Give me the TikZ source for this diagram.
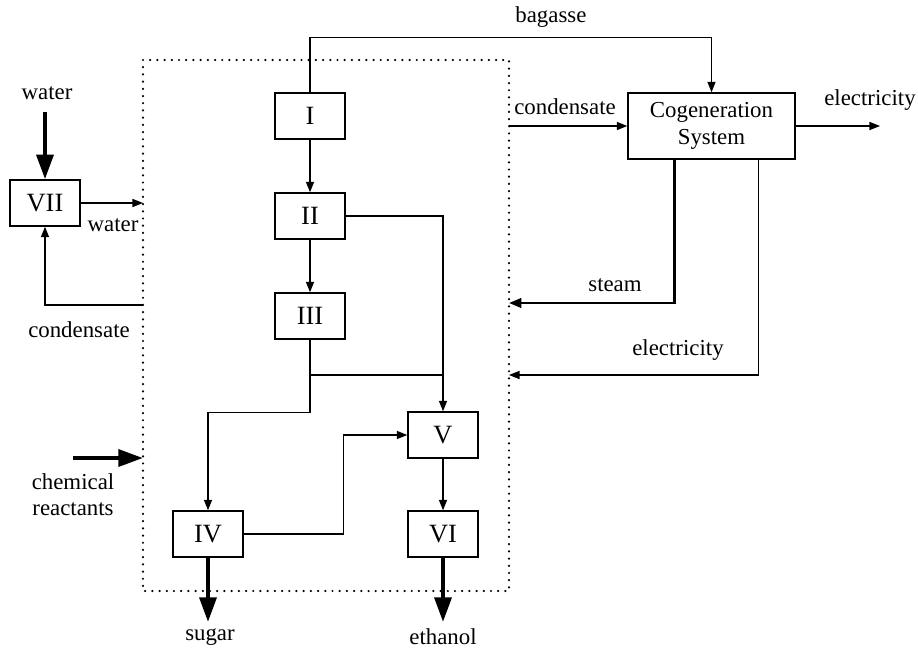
\documentclass[tikz,border=0pt]{standalone}
\usepackage{fontspec}
\setmainfont{Liberation Serif}
\usetikzlibrary{arrows.meta, positioning, calc}

\begin{document}
\begin{tikzpicture}[
  every node/.style={font=\fontsize{13}{15}\selectfont},
  b/.style={draw, line width=0.8pt, fill=white, align=center, minimum width=1.4cm, minimum height=0.92cm, inner sep=2pt, font=\fontsize{15}{17}\selectfont},
  a/.style={-{Triangle[length=6pt,width=4.6pt]}, line width=0.7pt},
  sa/.style={-{Triangle[length=7pt,width=5.4pt]}, line width=1.3pt},
  ta/.style={-{Triangle[length=14pt,width=9.5pt]}, line width=2.4pt},
  lbl/.style={inner sep=1pt}]
\useasboundingbox (0,0) rectangle (18.36,-13.02);
% plant boundary
\draw[line width=1.4pt, line cap=round, dash pattern=on 0pt off 4.1pt] (2.86,-1.2) rectangle (10.18,-11.82);
\coordinate (pw) at (2.86,0);
\coordinate (pe) at (10.18,0);
% units
\node[b] (s1) at (6.2,-2.32)  {I};
\node[b] (s2) at (6.2,-4.32)  {II};
\node[b] (s3) at (6.2,-6.32)  {III};
\node[b] (s4) at (4.16,-10.68) {IV};
\node[b] (s5) at (8.86,-8.7)  {V};
\node[b] (s6) at (8.86,-10.68) {VI};
\node[b] (s7) at (0.9,-4.06)  {VII};
\node[b, minimum width=3.34cm, minimum height=1.32cm, font=\fontsize{13}{15}\selectfont] (cogen) at (14.23,-2.52) {Cogeneration\\ System};
% free ends
\coordinate (win) at (0.9,-2.24);
\coordinate (cin) at (1.46,-9.16);
\coordinate (eout) at (17.6,-2.52);
\coordinate (sugar) at (4.16,-12.44);
\coordinate (eth) at (8.86,-12.44);
\coordinate (j) at (6.2,-7.5);
% inside the plant
\draw[a] (s1) -- (s2);
\draw[a] (s2) -- (s3);
\draw[a] (s2.east) -| (s5.north);
\draw[a] (s3.south) -- ++(0,-1.46) -| (s4.north);
\draw[line width=0.7pt] (j) -- (j -| s5.north);
\draw[a] (s4.east) -- ++(2.0,0) |- (s5.west);
\draw[a] (s5) -- (s6);
\draw[ta] (s4.south) -- (sugar);
\draw[ta] (s6.south) -- (eth);
% cogeneration
\draw[a] (s1.north) -- ++(0,1.1) -| node[pos=0.3, above=2pt]{bagasse} (cogen.north);
\draw[a] (pe |- cogen.west) -- (cogen.west);
\node[lbl] (cnd2) at (11.3,-2.14) {condensate};
\draw[a] (cogen.east) -- (eout);
\node[lbl] (el1) at (17.4,-2.0) {electricity};
\draw[sa] ($(cogen.south west)!0.28!(cogen.south east)$) |- (pe |- 0,-6.06);
\node[lbl] (stm) at (12.3,-5.7) {steam};
\draw[a] ($(cogen.south west)!0.78!(cogen.south east)$) |- (pe |- 0,-7.5);
\node[lbl] (el2) at (13.56,-7.0) {electricity};
% water loop
\draw[ta] (win) -- (s7.north);
\node[lbl] (w1) at (0.94,-1.86) {water};
\draw[a] (s7.east) -- (s7.east -| pw);
\node[lbl] (w2) at (2.26,-4.5) {water};
\draw[a] (pw |- 0,-6.1) -| (s7.south);
\node[lbl] (cond) at (1.58,-6.6) {condensate};
\draw[ta] (cin) -- (cin -| pw);
\node[lbl, align=center] (chem) at (1.46,-9.9) {chemical\\ reactants};
\node[lbl] at (4.2,-12.74) {sugar};
\node[lbl] at (8.86,-12.74) {ethanol};
\end{tikzpicture}
\end{document}
